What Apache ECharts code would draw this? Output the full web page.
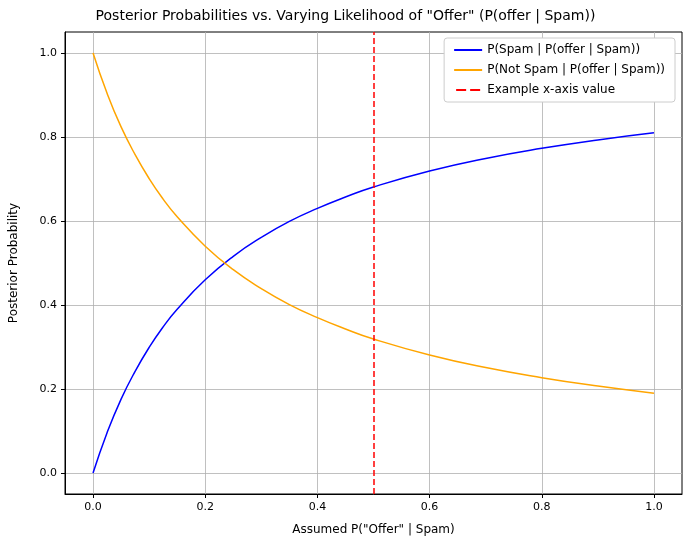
<!DOCTYPE html>
<html><head><meta charset="utf-8">
<script src="https://cdn.jsdelivr.net/npm/echarts@6/dist/echarts.min.js"></script>
<style>html,body{margin:0;padding:0;background:#fff}#c{width:691px;height:548px}</style>
</head><body><div id="c"></div>
<script>
const xs = [0,0.025,0.05,0.075,0.1,0.125,0.15,0.2,0.25,0.3,0.35,0.4,0.45,0.5,0.6,0.7,0.8,0.9,1.0];
const spam = [0,0.096,0.176,0.242,0.299,0.348,0.390,0.460,0.516,0.561,0.599,0.630,0.657,0.681,0.719,0.749,0.773,0.793,0.810];
const notSpam = [1,0.904,0.824,0.758,0.701,0.652,0.610,0.540,0.484,0.439,0.401,0.370,0.343,0.319,0.281,0.251,0.227,0.207,0.190];
const exampleX = 0.5;
const ticks = [0,0.2,0.4,0.6,0.8,1.0];
const ch = echarts.init(document.getElementById('c'));
const font = 'DejaVu Sans';
const ax = (name, gap) => ({
  type:'value', min:-0.05, max:1.05, name, nameLocation:'middle', nameGap:gap,
  nameTextStyle:{color:'#000',fontSize:12,fontFamily:font},
  axisLine:{onZero:false,lineStyle:{color:'#000'}},
  axisTick:{show:true,length:4,lineStyle:{color:'#000'},customValues:ticks},
  axisLabel:{color:'#000',fontSize:11,fontFamily:font,customValues:ticks,formatter:v=>v.toFixed(1),showMinLabel:true,showMaxLabel:true},
  splitLine:{show:true,lineStyle:{color:'#b0b0b0',width:0.8},customValues:ticks}
});
const xA = ax('Assumed P("Offer" | Spam)',30);
const yA = ax('Posterior Probability',45);
ch.setOption({
  animation:false,
  title:{text:'Posterior Probabilities vs. Varying Likelihood of "Offer" (P(offer | Spam))',left:'center',top:4,textStyle:{fontSize:14,fontWeight:'normal',color:'#000',fontFamily:font}},
  grid:{left:61,right:9,top:32,bottom:54,show:true,borderColor:'#000',borderWidth:1},
  xAxis:xA, yAxis:yA,
  legend:{right:16,top:38,orient:'vertical',itemWidth:28,itemHeight:2,itemGap:8,padding:[6,10],
    backgroundColor:'#fff',borderColor:'#ccc',borderWidth:1,borderRadius:3,
    textStyle:{fontSize:12,color:'#000',fontFamily:font},
    data:[{name:'P(Spam | P(offer | Spam))',icon:'rect'},{name:'P(Not Spam | P(offer | Spam))',icon:'rect'},{name:'Example x-axis value',icon:'path://M0,0H10V2H0Z M14,0H24V2H14Z'}]},
  series:[
    {name:'P(Spam | P(offer | Spam))',type:'line',smooth:true,showSymbol:false,color:'#0000ff',lineStyle:{width:1.5},data:xs.map((x,i)=>[x,spam[i]])},
    {name:'P(Not Spam | P(offer | Spam))',type:'line',smooth:true,showSymbol:false,color:'#ffa500',lineStyle:{width:1.5},data:xs.map((x,i)=>[x,notSpam[i]])},
    {name:'Example x-axis value',type:'line',data:[],color:'#ff0000',lineStyle:{type:'dashed',width:1.5},
      markLine:{symbol:'none',silent:true,label:{show:false},lineStyle:{color:'#ff0000',type:[6,3],width:1.5},data:[{xAxis:exampleX}]}}
  ]
});
</script></body></html>
